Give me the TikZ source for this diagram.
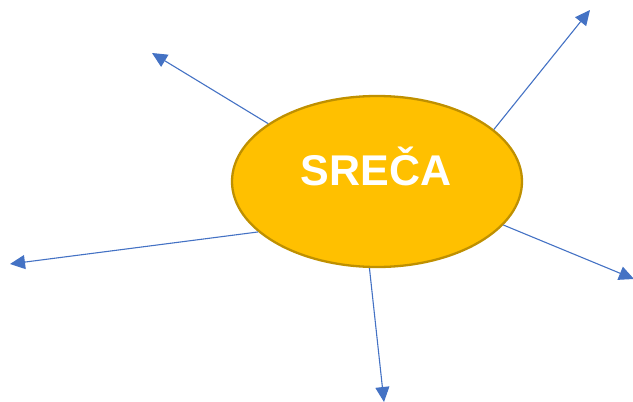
\documentclass[tikz,border=0pt]{standalone}
\usepackage{fontspec}
\setmainfont{Liberation Sans}
\usetikzlibrary{shapes.geometric, arrows.meta}

\definecolor{sunfill}{HTML}{FFC000}
\definecolor{sunedge}{HTML}{BF9000}
\definecolor{raycol}{HTML}{4472C4}

\begin{document}
\begin{tikzpicture}[
        ->,
        >={Triangle[length=15pt, width=14pt]},
        every node/.style={font=\bfseries\fontsize{43}{43}\selectfont},
        hub/.style={ellipse, draw=sunedge, line width=2.3pt, fill=sunfill,
            text=white, minimum width=290pt, minimum height=171pt, inner sep=0pt},
        ray/.style={draw=raycol, line width=1.1pt},
        x=1pt,
        y=-1pt
    ]
    \useasboundingbox (0,0) rectangle (633,402);

    \node[hub] (sreca) at (377,181.5) {};
    \node[text=white, inner sep=0pt] (word) at (376,166) {SREČA};

    \coordinate (nw) at (152,53);
    \coordinate (ne) at (590,10);
    \coordinate (w) at (10,264);
    \coordinate (e) at (634,279);
    \coordinate (s) at (384,402);

    \draw[ray] (sreca.152) -- (nw);
    \draw[ray] (sreca.24) -- (ne);
    \draw[ray] (sreca.203) -- (w);
    \draw[ray] (sreca.341) -- (e);
    \draw[ray] (sreca.265) -- (s);
\end{tikzpicture}
\end{document}
